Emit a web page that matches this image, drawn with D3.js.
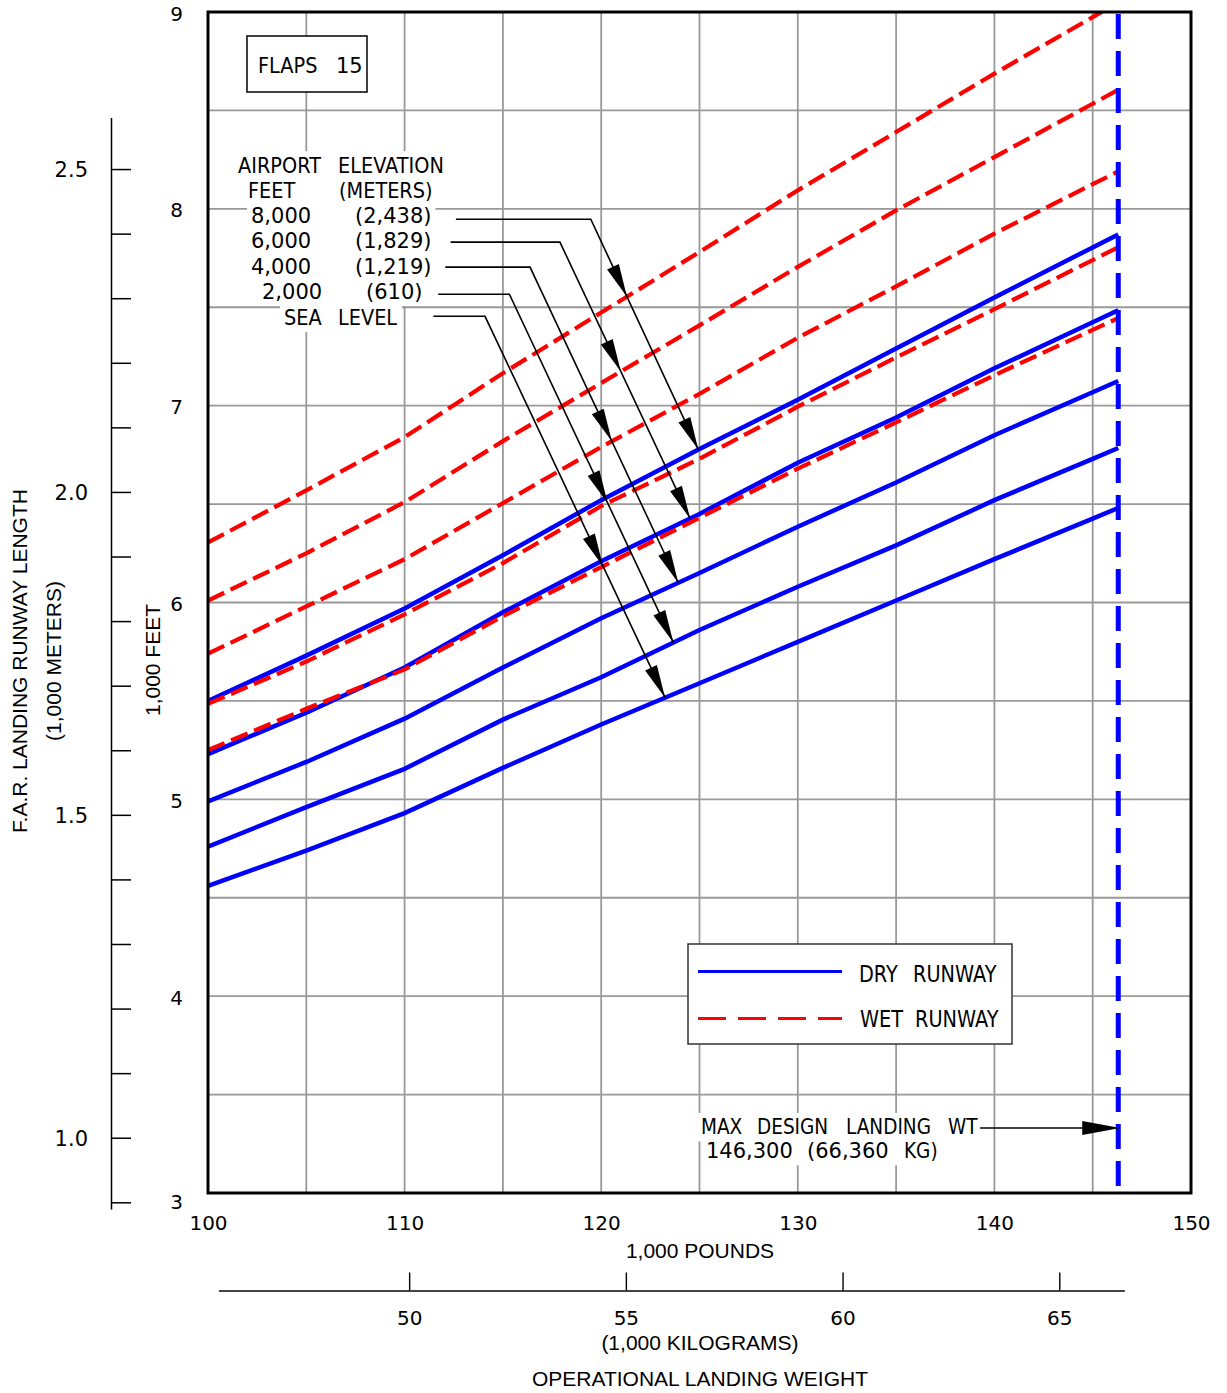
<!DOCTYPE html>
<html>
<head>
<meta charset="utf-8">
<script src="https://cdn.jsdelivr.net/npm/d3@7"></script>
<style>
body{margin:0;background:#fff}
svg{display:block}
text{font-family:"DejaVu Sans",sans-serif;fill:#000}
.ttl{font-family:"Liberation Sans",Arial,sans-serif;font-size:21px}
</style>
</head>
<body>
<svg id="chart"></svg>
<script>
// weights in 1,000 lb, runway length in 1,000 ft
var weights=[100,105,110,115,120,125,130,135,140,145,146.3];
var elevations=["SEA LEVEL","2,000","4,000","6,000","8,000"];
var elevationMeters=["","(610)","(1,219)","(1,829)","(2,438)"];

var drySeaLevel=[4.56,4.74,4.93,5.16,5.38,5.59,5.80,6.01,6.22,6.426,6.48];
var dry2000=[4.76,4.96,5.155,5.405,5.62,5.86,6.08,6.29,6.52,6.73,6.785];
var dry4000=[4.99,5.19,5.41,5.67,5.92,6.15,6.385,6.61,6.85,7.068,7.125];
var dry6000=[5.23,5.44,5.67,5.95,6.21,6.45,6.71,6.94,7.19,7.424,7.485];
var dry8000=[5.50,5.73,5.97,6.24,6.52,6.78,7.03,7.29,7.55,7.804,7.87];

var wetSeaLevel=[5.25,5.46,5.66,5.93,6.18,6.43,6.68,6.915,7.155,7.385,7.445];
var wet2000=[5.485,5.70,5.94,6.20,6.49,6.73,6.995,7.245,7.49,7.74,7.805];
var wet4000=[5.74,5.98,6.22,6.505,6.79,7.06,7.345,7.606,7.874,8.125,8.19];
var wet6000=[6.01,6.25,6.51,6.82,7.115,7.408,7.705,7.992,8.263,8.534,8.605];
var wet8000=[6.305,6.57,6.84,7.165,7.473,7.781,8.094,8.39,8.687,8.974,9.05];

var dryCurves=[drySeaLevel,dry2000,dry4000,dry6000,dry8000];
var wetCurves=[wetSeaLevel,wet2000,wet4000,wet6000,wet8000];

// leader lines from the elevation labels (SL..8000)
var leaderStart=[111.46,111.71,112.07,112.34,112.61];
var leaderCorner=[114.09,115.33,116.38,117.90,119.47];
var leaderFeet=[7.454,7.566,7.704,7.831,7.947];
var leaderTip=[123.25,123.67,123.92,124.52,124.94];

var xTicks=[100,110,120,130,140,150];
var yTicks=[3,4,5,6,7,8,9];
var kgTicks=[50,55,60,65];
var meterTicks=d3.range(9,26).map(function(d){return d/10;});
var meterLabels=[1.0,1.5,2.0,2.5];

var maxWeight=146.3;
var maxArrowFeet=3.33;
var maxArrowFrom=139.27;

var LB_PER_KG=2.20462, FT_PER_M=3.28084;

var svg=d3.select("#chart").attr("width",1227).attr("height",1393);
var x=d3.scaleLinear().domain([100,150]).range([208,1191]);
var y=d3.scaleLinear().domain([3,9]).range([1193,12]);

svg.append("defs").append("clipPath").attr("id","plotClip")
  .append("rect").attr("x",208).attr("y",12).attr("width",983).attr("height",1181);

// grid
var grid=svg.append("g").attr("stroke","#999").attr("stroke-width",1.8);
grid.selectAll("line.v").data(d3.range(105,150,5)).enter().append("line")
  .attr("x1",function(d){return x(d);}).attr("x2",function(d){return x(d);})
  .attr("y1",y(9)).attr("y2",y(3));
grid.selectAll("line.h").data(d3.range(3.5,9,0.5)).enter().append("line")
  .attr("y1",function(d){return y(d);}).attr("y2",function(d){return y(d);})
  .attr("x1",x(100)).attr("x2",x(150));

// curves
var line=d3.line().x(function(d,i){return x(weights[i]);}).y(function(d){return y(d);});
var curves=svg.append("g").attr("clip-path","url(#plotClip)").attr("fill","none");
curves.selectAll("path.dry").data(dryCurves).enter().append("path")
  .attr("d",line).attr("stroke","#0000ff").attr("stroke-width",4.5);
curves.selectAll("path.wet").data(wetCurves).enter().append("path")
  .attr("d",line).attr("stroke","#ff0000").attr("stroke-width",4.2)
  .attr("stroke-dasharray","18,7");
curves.append("line")
  .attr("x1",x(maxWeight)).attr("x2",x(maxWeight)).attr("y1",y(9)+2).attr("y2",y(3))
  .attr("stroke","#0000ff").attr("stroke-width",5).attr("stroke-dasharray","25,12");

// text helper: words with their own x, letters slightly condensed
function noteRow(g,ypos,words,size,sx,pad){
  var rg=g.append("g");
  words.forEach(function(w){
    var s=/[A-Z]/.test(w[1])?sx:1;
    rg.append("text").attr("transform","translate("+w[0]+","+ypos+") scale("+s+",1)")
      .style("font-size",size+"px").text(w[1]);
  });
  var bb=rg.node().getBBox();
  rg.insert("rect","text").attr("x",bb.x-pad).attr("y",bb.y-2)
    .attr("width",bb.width+2*pad).attr("height",bb.height+4).attr("fill","#fff");
  return rg;
}

function arrowHead(g,tx,ty,ux,uy,L,W){
  var bx=tx-ux*L, by=ty-uy*L;
  g.append("path").attr("d","M"+tx+","+ty+"L"+(bx-uy*W)+","+(by+ux*W)+"L"+(bx+uy*W)+","+(by-ux*W)+"Z")
    .attr("fill","#000").attr("stroke","none");
}

// elevation labels
var notes=svg.append("g");
noteRow(notes,173,[[238,"AIRPORT"],[338,"ELEVATION"]],21,0.92,3);
noteRow(notes,198,[[248,"FEET"],[339,"(METERS)"]],21,0.92,3);
var rowY=[325,299,274,248,223];
var feetX=[284,262,251,251,251];
var meterX=[338,366,355,355,355];
elevations.forEach(function(e,i){
  var words=i===0?[[284,"SEA"],[338,"LEVEL"]]:[[feetX[i],e],[meterX[i],elevationMeters[i]]];
  noteRow(notes,rowY[i],words,21,0.92,4);
});

// leaders with arrows onto wet and dry curves
var leaders=svg.append("g");
elevations.forEach(function(e,i){
  var dry=d3.scaleLinear().domain(weights).range(dryCurves[i]);
  var wet=d3.scaleLinear().domain(weights).range(wetCurves[i]);
  var c=[leaderCorner[i],leaderFeet[i]], d=[leaderTip[i],dry(leaderTip[i])];
  var lo=0,hi=1;
  for(var k=0;k<40;k++){
    var t=(lo+hi)/2, w=c[0]+t*(d[0]-c[0]), f=c[1]+t*(d[1]-c[1]);
    if(f-wet(w)>0) lo=t; else hi=t;
  }
  var tw=c[0]+lo*(d[0]-c[0]), tf=c[1]+lo*(d[1]-c[1]);
  leaders.append("path")
    .attr("d","M"+x(leaderStart[i])+","+y(leaderFeet[i])+"L"+x(c[0])+","+y(c[1])+"L"+x(d[0])+","+y(d[1]))
    .attr("fill","none").attr("stroke","#000").attr("stroke-width",1.6);
  var dx=x(d[0])-x(c[0]), dy=y(d[1])-y(c[1]), len=Math.sqrt(dx*dx+dy*dy);
  arrowHead(leaders,x(tw),y(tf),dx/len,dy/len,33,6.5);
  arrowHead(leaders,x(d[0]),y(d[1]),dx/len,dy/len,33,6.5);
});

// flaps box
svg.append("rect").attr("x",247).attr("y",36).attr("width",120).attr("height",56)
  .attr("fill","#fff").attr("stroke","#000").attr("stroke-width",1.5);
noteRow(svg,73,[[258,"FLAPS"],[336,"15"]],21,0.92,0);

// legend
var lg=svg.append("g");
lg.append("rect").attr("x",688).attr("y",944).attr("width",324).attr("height",100)
  .attr("fill","#fff").attr("stroke","#333").attr("stroke-width",1.5);
lg.append("line").attr("x1",698).attr("x2",842).attr("y1",971.5).attr("y2",971.5)
  .attr("stroke","#0000ff").attr("stroke-width",2.8);
lg.append("line").attr("x1",698).attr("x2",842).attr("y1",1018.5).attr("y2",1018.5)
  .attr("stroke","#ff0000").attr("stroke-width",3.2).attr("stroke-dasharray","28,12");
noteRow(lg,982,[[859,"DRY"],[913,"RUNWAY"]],23,0.84,0).select("rect").remove();
noteRow(lg,1027,[[860,"WET"],[915,"RUNWAY"]],23,0.84,0).select("rect").remove();

// max design landing weight
var mx=svg.append("g");
noteRow(mx,1134,[[701,"MAX"],[757,"DESIGN"],[846,"LANDING"],[948,"WT"]],21,0.88,3);
noteRow(mx,1158,[[706,"146,300"],[807,"(66,360"],[904,"KG)"]],21,0.88,3);
mx.append("line").attr("x1",x(maxArrowFrom)).attr("x2",x(maxWeight)).attr("y1",y(maxArrowFeet)).attr("y2",y(maxArrowFeet))
  .attr("stroke","#000").attr("stroke-width",1.4);
arrowHead(mx,x(maxWeight)+2,y(maxArrowFeet),1,0,38,7);

// plot frame
svg.append("rect").attr("x",208).attr("y",12).attr("width",983).attr("height",1181)
  .attr("fill","none").attr("stroke","#000").attr("stroke-width",3);

// axes
var xAxis=svg.append("g").attr("transform","translate(0,1193)")
  .call(d3.axisBottom(x).tickValues(xTicks).tickSize(0).tickPadding(23).tickFormat(d3.format("d")));
var yAxis=svg.append("g").attr("transform","translate(208,0)")
  .call(d3.axisLeft(y).tickValues(yTicks).tickSize(0).tickPadding(25).tickFormat(d3.format("d")));
[xAxis,yAxis].forEach(function(a){
  a.select(".domain").remove();
  a.selectAll("text").style("font-family","DejaVu Sans").style("font-size","20px").attr("fill","#000");
});
yAxis.selectAll("text").attr("dy",function(d){return d===3?"0.75em":"0.4em";});

var kg=d3.scaleLinear().domain([45.6,66.5]).range([x(45.6*LB_PER_KG),x(66.5*LB_PER_KG)]);
var kgAxis=svg.append("g").attr("transform","translate(0,1290.5)")
  .call(d3.axisBottom(kg).tickValues(kgTicks).tickSizeInner(-18).tickSizeOuter(0).tickPadding(20));
kgAxis.select(".domain").attr("stroke","#444").attr("stroke-width",2);
kgAxis.selectAll(".tick line").attr("stroke","#000").attr("stroke-width",1.4);
kgAxis.selectAll("text").style("font-family","DejaVu Sans").style("font-size","20px").attr("fill","#000");

var mScale=d3.scaleLinear().domain([0.8898,2.58]).range([y(0.8898*FT_PER_M),y(2.58*FT_PER_M)]);
var mAxis=svg.append("g").attr("transform","translate(111,0)")
  .call(d3.axisLeft(mScale).tickValues(meterTicks).tickSizeInner(-20).tickSizeOuter(0).tickPadding(23)
    .tickFormat(function(d){return meterLabels.some(function(m){return Math.abs(m-d)<1e-6;})?d3.format(".1f")(d):"";}));
mAxis.select(".domain").attr("stroke","#000").attr("stroke-width",1.5);
mAxis.selectAll(".tick line").attr("stroke","#000").attr("stroke-width",1.5);
mAxis.selectAll("text").style("font-family","DejaVu Sans").style("font-size","21px").attr("fill","#000").attr("dy","0.36em");

// axis titles
var titles=svg.append("g");
titles.append("text").attr("class","ttl").attr("text-anchor","middle").attr("x",700).attr("y",1258).text("1,000 POUNDS");
titles.append("text").attr("class","ttl").attr("text-anchor","middle").attr("x",700).attr("y",1350).text("(1,000 KILOGRAMS)");
titles.append("text").attr("class","ttl").attr("text-anchor","middle").attr("x",700).attr("y",1386).text("OPERATIONAL LANDING WEIGHT");
titles.append("text").attr("class","ttl").attr("text-anchor","middle")
  .attr("transform","translate(27,661) rotate(-90)").text("F.A.R. LANDING RUNWAY LENGTH");
titles.append("text").attr("class","ttl").attr("text-anchor","middle")
  .attr("transform","translate(61,661) rotate(-90)").text("(1,000 METERS)");
titles.append("text").attr("class","ttl").attr("text-anchor","middle")
  .attr("transform","translate(160,660) rotate(-90)").text("1,000 FEET");
</script>
</body>
</html>
